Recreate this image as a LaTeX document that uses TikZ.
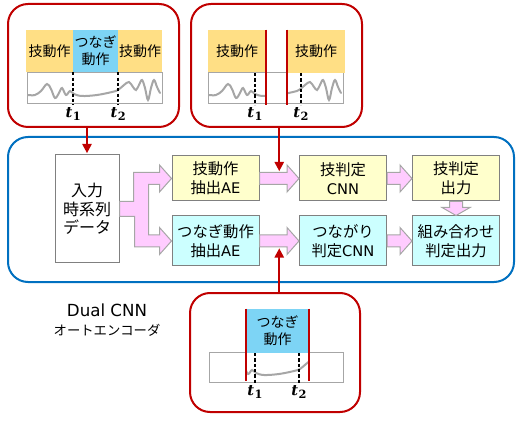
\documentclass[tikz,border=0pt]{standalone}
\usepackage{fontspec}
\setmainfont{Noto Sans CJK JP}
\newfontfamily\latinfont{DejaVu Sans}
\newfontfamily\tfont{DejaVu Serif}
\usetikzlibrary{arrows.meta,calc,positioning}

\definecolor{panelred}{HTML}{C00000}
\definecolor{mainblue}{HTML}{0070C0}
\definecolor{boxyellow}{HTML}{FFFFCC}
\definecolor{boxcyan}{HTML}{CCFFFF}
\definecolor{boxgray}{HTML}{808080}
\definecolor{tabyellow}{HTML}{FFDF85}
\definecolor{tabblue}{HTML}{7DD4F5}
\definecolor{pinkfill}{HTML}{FFCCFF}
\definecolor{wavegray}{HTML}{A6A6A6}

\newcommand\boxfont{\fontsize{11.5}{14.5}\selectfont}
\newcommand\tabfont{\fontsize{10.5}{12.5}\selectfont}
\newcommand\lat[1]{{\latinfont\fontsize{11}{14.5}\selectfont #1}}
\newcommand\tmark[1]{{\tfont\bfseries\itshape t}\kern0.3pt\raisebox{-2.5pt}{\tfont\bfseries\fontsize{8.5}{9}\selectfont #1}}

\tikzset{
  panel/.style={draw=panelred, line width=1.5pt, rounded corners=15pt,
    minimum width=128.25pt, minimum height=92.25pt, inner sep=0pt},
  mainframe/.style={draw=mainblue, line width=1.5pt, rounded corners=15pt,
    minimum width=379.5pt, minimum height=108.75pt, inner sep=0pt},
  wavebox/.style={draw=wavegray, line width=0.75pt, fill=white,
    minimum height=23.25pt, inner sep=0pt},
  wave/.style={draw=wavegray, line width=1.5pt, line cap=round},
  tline/.style={line width=1.2pt, dash pattern=on 2.4pt off 1.6pt},
  tlabel/.style={font=\fontsize{11}{13}\selectfont, inner sep=1pt},
  cutline/.style={draw=panelred, line width=1.5pt},
  redarrow/.style={draw=panelred, line width=1.5pt,
    -{Triangle[width=7pt,length=7pt]}},
  pinkarrow/.style={draw=wavegray, fill=pinkfill, line width=0.75pt,
    line join=miter},
  fatright/.style={to path={
    ($(\tikztostart)+(0,-6)$) -- ($(\tikztotarget)+(-12,-6)$)
    -- ($(\tikztotarget)+(-12,-13.5)$) -- (\tikztotarget)
    -- ($(\tikztotarget)+(-12,13.5)$) -- ($(\tikztotarget)+(-12,6)$)
    -- ($(\tikztostart)+(0,6)$) -- cycle}},
  fatdown/.style={to path={
    ($(\tikztostart)+(-6.5,0)$) -- ($(\tikztotarget)+(-6.5,-8)$)
    -- ($(\tikztotarget)+(-14,-8)$) -- (\tikztotarget)
    -- ($(\tikztotarget)+(14,-8)$) -- ($(\tikztotarget)+(6.5,-8)$)
    -- ($(\tikztostart)+(6.5,0)$) -- cycle}}
}

% signal trace, drawn from the top left corner of its box
\newcommand\wave[1]{\draw[wave, shift={#1}] plot[smooth, tension=0.6]
  coordinates {(1,22) (8,22) (14,18) (20,11) (24,16) (28,25) (32,20)
  (35,15) (39,22) (43,18) (47,21) (55,23) (70,22) (85,19) (91,17)
  (97,12) (102,9) (106,14) (109,17) (112,12) (115,7) (118,15) (121,27)
  (124,15) (127,7) (130,14) (133,20)};}

\begin{document}
\begin{tikzpicture}[x=0.75pt, y=-0.75pt]
\useasboundingbox (0,0) rectangle (523,423);

		% frames
		\node[panel] (pA) at (93.5,65.5) {};
		\node[panel] (pB) at (276.5,65.5) {};
		\node[panel, minimum width=127.5pt, minimum height=89.25pt] (pC) at (275,352.5) {};
		\node[mainframe] (frame) at (261,209.5) {};

		% signal boxes
		\node[wavebox, minimum width=101.25pt] (gA) at (94.5,88.5) {};
		\node[wavebox, minimum width=101.25pt] (gB) at (275.5,88.5) {};
		\node[wavebox, minimum width=100.5pt, minimum height=22.5pt] (gC) at (276,367) {};

		\wave{(27,73)}
		\begin{scope}
			\clip (208,73) rectangle (266,104);
			\wave{(208,73)}
		\end{scope}
		\begin{scope}
			\clip (287,73) rectangle (343,104);
			\wave{(208,73)}
		\end{scope}
		\begin{scope}
			\clip (246,352) rectangle (309,382);
			\wave{(209,352)}
		\end{scope}

		% motion tabs
		\begin{scope}[every node/.style={inner sep=0pt, align=center, font=\tabfont, minimum height=31.5pt}]
			\node[fill=tabyellow, minimum width=35.25pt] (tA) at (49.5,51) {技動作};
			\node[fill=tabblue, minimum width=33.75pt] (tB) at (95.5,51) {つなぎ\\動作};
			\node[fill=tabyellow, minimum width=33pt] (tC) at (140,51) {技動作};
			\node[fill=tabyellow, minimum width=43.5pt] (tD) at (237,51) {技動作};
			\node[fill=tabyellow, minimum width=43.5pt, minimum height=32.25pt] (tE) at (316,51.5) {技動作};
			\node[fill=tabblue, minimum width=47.25pt, minimum height=33pt] (tF) at (277.5,331) {つなぎ\\動作};
		\end{scope}

		% cut points
		\draw[tline] (tA.south east) -- ($(tA.east |- gA.south)+(0,1)$) node[below, tlabel] {\tmark{1}};
		\draw[tline] (tB.south east) -- ($(tB.east |- gA.south)+(0,1)$) node[below, tlabel] {\tmark{2}};
		\draw[tline] (255,73) -- (255,105) node[below, tlabel] {\tmark{1}};
		\draw[tline] (301,73) -- (301,105) node[below, tlabel] {\tmark{2}};
		\draw[tline] (255,353) -- (255,383) node[below, tlabel] {\tmark{1}};
		\draw[tline] (299,353) -- (299,383) node[below, tlabel] {\tmark{2}};

		\draw[cutline] (tD.north east) -- ($(tD.east |- gB.south)+(0,1)$);
		\draw[cutline] (tE.north west) -- ($(tE.west |- gB.south)+(0,1)$);
		\draw[cutline] (tF.north west) -- ($(tF.west |- gC.south)+(0,-2)$);
		\draw[cutline] (tF.north east) -- ($(tF.east |- gC.south)+(0,-2)$);

		% network blocks
		\begin{scope}[every node/.style={draw=boxgray, line width=0.75pt, align=center, font=\boxfont, inner sep=0pt, minimum width=65.25pt}]
			\node[fill=white, minimum width=48pt, minimum height=81pt, font=\fontsize{12}{14}\selectfont] (in) at (87,209) {入力\\時系列\\データ};
			\node[fill=boxyellow, minimum height=33.75pt] (ex1) at (215.5,178.5) {技動作\\抽出\lat{AE}};
			\node[fill=boxyellow, minimum height=33.75pt] (cnn1) at (343,178.5) {技判定\\\lat{CNN}};
			\node[fill=boxyellow, minimum height=33.75pt] (out1) at (456,178.5) {技判定\\出力};
			\node[fill=boxcyan, minimum height=37.5pt] (ex2) at (215.5,241) {つなぎ動作\\抽出\lat{AE}};
			\node[fill=boxcyan, minimum height=37.5pt] (cnn2) at (343,241) {つながり\\判定\lat{CNN}};
			\node[fill=boxcyan, minimum height=37.5pt] (out2) at (456,241) {組み合わせ\\判定出力};
		\end{scope}

		\node[align=center, font=\fontsize{10}{14}\selectfont] (title) at (107,320)
			{{\latinfont\fontsize{12.5}{14}\selectfont Dual CNN}\\オートエンコーダ};

		% data flow
		\draw[pinkarrow] ($(in.east)+(0,-7.5)$) -| ($(ex1.west)+(-38,-6)$)
			-- ($(ex1.west)+(-12,-6)$) -- ($(ex1.west)+(-12,-13.5)$) -- (ex1.west)
			-- ($(ex1.west)+(-12,13.5)$) -- ($(ex1.west)+(-12,6)$)
			-| ($(ex2.west)+(-23,-6)$)
			-- ($(ex2.west)+(-12,-6)$) -- ($(ex2.west)+(-12,-13.5)$) -- (ex2.west)
			-- ($(ex2.west)+(-12,13.5)$) -- ($(ex2.west)+(-12,6)$)
			-| ($(in.east)+(15,7.5)$) -- ($(in.east)+(0,7.5)$) -- cycle;
		\draw[pinkarrow, fatright] (ex1.east) to (cnn1.west);
		\draw[pinkarrow, fatright] (cnn1.east) to (out1.west);
		\draw[pinkarrow, fatright] (ex2.east) to (cnn2.west);
		\draw[pinkarrow, fatright] (cnn2.east) to (out2.west);
		\draw[pinkarrow, fatdown] (out1.south) to (out2.north);

		\coordinate (m1) at ($(ex1.east)!0.5!(cnn1.west)+(0,-6)$);
		\coordinate (m2) at ($(ex2.east)!0.5!(cnn2.west)+(0,6)$);

		\begin{scope}[shorten >=1pt]
			\path (in.north |- pA.south) edge[redarrow] (in.north);
			\path (pB.south -| m1) edge[redarrow] (m1);
			\path (pC.north -| m2) edge[redarrow] (m2);
		\end{scope}
\end{tikzpicture}
\end{document}
